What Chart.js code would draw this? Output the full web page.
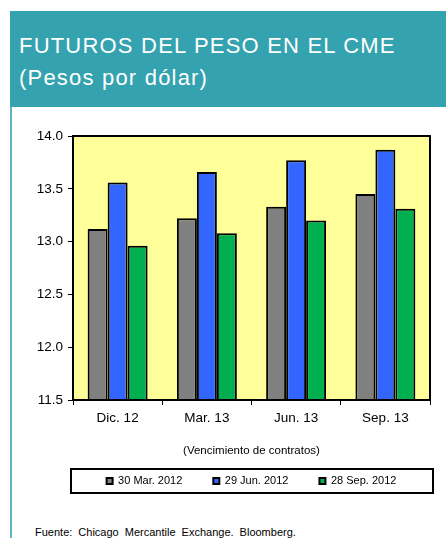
<!DOCTYPE html>
<html>
<head>
<meta charset="utf-8">
<script src="https://cdn.jsdelivr.net/npm/chart.js@4"></script>
<style>
  body { margin: 0; background: #fff; font-family: "Liberation Sans", Arial, sans-serif; }
  #wrap { position: relative; width: 446px; height: 538px; overflow: hidden; }
  #head { position: absolute; left: 10px; top: 11px; width: 436px; height: 96px; background: #35a2af; }
  #head div { position: absolute; left: 9px; color: #fff; font-size: 22px; letter-spacing: 1.2px; white-space: nowrap; }
  #edge { position: absolute; left: 10px; top: 107px; width: 2px; height: 431px; background: #5fb6c2; }
  #foot { position: absolute; left: 35px; top: 526px; font-size: 11px; word-spacing: 3px; color: #000; }
  canvas { position: absolute; left: 0; top: 0; }
</style>
</head>
<body>
<div id="wrap">
  <div id="head">
    <div style="top:22px">FUTUROS DEL PESO EN EL CME</div>
    <div style="top:54px">(Pesos por dólar)</div>
  </div>
  <div id="edge"></div>
  <div id="foot">Fuente: Chicago Mercantile Exchange. Bloomberg.</div>
  <canvas id="myChart" width="446" height="538"></canvas>
</div>
<script>
const categories = ['Dic. 12', 'Mar. 13', 'Jun. 13', 'Sep. 13'];
const mar2012 = [13.12, 13.22, 13.33, 13.45];
const jun2012 = [13.56, 13.66, 13.77, 13.87];
const sep2012 = [12.96, 13.08, 13.20, 13.31];
const yTicks = [11.5, 12.0, 12.5, 13.0, 13.5, 14.0];

// yellow plot area + black frame, and the box round the legend
const frame = {
  id: 'frame',
  beforeDatasetsDraw(chart) {
    const { ctx, chartArea: a } = chart;
    ctx.save();
    ctx.fillStyle = '#ffff99';
    ctx.fillRect(a.left, a.top, a.right - a.left, a.bottom - a.top);
    ctx.restore();
  },
  afterDraw(chart) {
    const { ctx, chartArea: a } = chart;
    ctx.save();
    ctx.strokeStyle = '#000';
    ctx.lineWidth = 2;
    ctx.strokeRect(a.left, a.top, a.right - a.left, a.bottom - a.top);
    const hb = chart.legend.legendHitBoxes[0];
    const cy = hb.top + hb.height / 2;
    ctx.strokeRect(a.left - 2, cy - 12, a.right - a.left + 5, 24);
    ctx.restore();
  }
};

const ctx = document.getElementById('myChart');

new Chart(ctx, {
  type: 'bar',
  data: {
    labels: categories,
    datasets: [
      { label: '30 Mar. 2012', data: mar2012, backgroundColor: '#808080' },
      { label: '29 Jun. 2012', data: jun2012, backgroundColor: '#3366ff' },
      { label: '28 Sep. 2012', data: sep2012, backgroundColor: '#00b050' }
    ]
  },
  options: {
    responsive: false,
    animation: false,
    layout: { padding: { top: 136, right: 16, bottom: 41.5, left: 0 } },
    datasets: {
      bar: {
        borderColor: '#000',
        borderWidth: 2,
        borderSkipped: false,
        barPercentage: 1,
        categoryPercentage: 0.672
      }
    },
    scales: {
      x: {
        grid: { drawOnChartArea: false, tickLength: 5, color: '#000' },
        border: { color: '#000', width: 2 },
        ticks: { color: '#000', padding: 5, font: { family: 'Liberation Sans', size: 13.5 } },
        title: {
          display: true,
          text: '(Vencimiento de contratos)',
          color: '#000',
          font: { family: 'Liberation Sans', size: 11.5 },
          padding: { top: 0, bottom: -13.4 }
        },
        afterFit(scale) { scale.height = 44.5; }
      },
      y: {
        min: 11.5,
        max: 14,
        afterBuildTicks(scale) { scale.ticks = yTicks.map(v => ({ value: v })); },
        grid: { drawOnChartArea: false, tickLength: 5, color: '#000' },
        border: { color: '#000', width: 2 },
        ticks: {
          color: '#000',
          padding: 5,
          font: { family: 'Liberation Sans', size: 13.5 },
          callback: v => v.toFixed(1)
        },
        afterFit(scale) { scale.width = 73; }
      }
    },
    plugins: {
      legend: {
        position: 'bottom',
        fullSize: false,
        labels: {
          color: '#000',
          boxWidth: 6,
          boxHeight: 6,
          padding: 31,
          font: { family: 'Liberation Sans', size: 11 }
        }
      },
      tooltip: { enabled: false }
    }
  },
  plugins: [frame]
});
</script>
</body>
</html>
